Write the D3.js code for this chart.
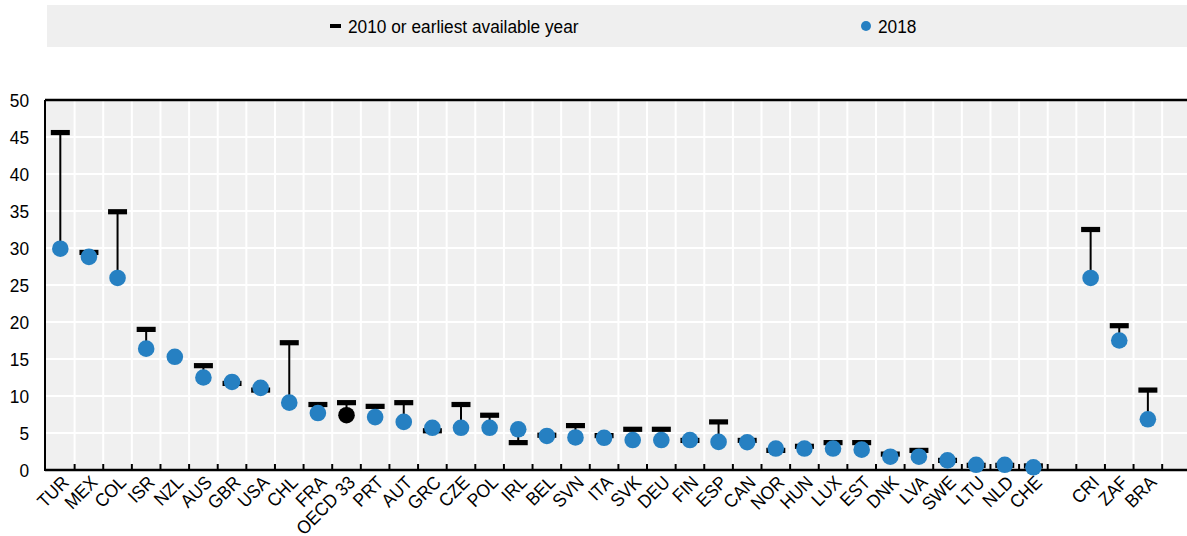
<!DOCTYPE html>
<html>
<head>
<meta charset="utf-8">
<script src="https://cdn.jsdelivr.net/npm/d3@7"></script>
<style>
  html, body { margin: 0; padding: 0; background: #fff; }
  svg { display: block; }
  text { font-family: "Liberation Sans", Arial, sans-serif; fill: #000; }
</style>
</head>
<body>
<svg id="chart" width="1187" height="536"></svg>
<script>
// ---- data ----
const oecdCategories = ["TUR","MEX","COL","ISR","NZL","AUS","GBR","USA","CHL","FRA","OECD 33","PRT","AUT","GRC","CZE","POL","IRL","BEL","SVN","ITA","SVK","DEU","FIN","ESP","CAN","NOR","HUN","LUX","EST","DNK","LVA","SWE","LTU","NLD","CHE"];
const partnerCategories = ["CRI","ZAF","BRA"];
const values2010 = [45.6,29.4,34.9,19.0,null,14.1,11.7,10.8,17.2,8.85,9.1,8.6,9.1,5.3,8.85,7.4,3.7,4.7,6.0,4.65,5.5,5.5,4.0,6.5,4.0,2.65,3.2,3.7,3.7,2.15,2.65,1.3,0.63,0.63,0.55,32.5,19.5,10.8];
const values2018 = [29.9,28.8,25.95,16.4,15.3,12.5,11.9,11.1,9.1,7.7,7.4,7.15,6.5,5.7,5.7,5.7,5.5,4.6,4.4,4.35,4.05,4.05,4.05,3.8,3.75,2.9,2.9,2.9,2.75,1.8,1.8,1.3,0.7,0.7,0.37,25.95,17.5,6.85];
const yTicks = [0,5,10,15,20,25,30,35,40,45,50];
const legendLabels = ["2010 or earliest available year","2018"];
const highlight = "OECD 33";

// ---- layout ----
const svg = d3.select("#chart");
const W = 1187, H = 536;
const pLeft = 46, pTop = 100, pBottom = 470;
const nSlots = 40;
const band = 28.62;
const pRight = pLeft + nSlots * band;
const FS = 18.5, SX = 0.935;

const categories = oecdCategories.concat(partnerCategories);
const domain = oecdCategories.concat(["__gap"], partnerCategories, ["__end"]);
const data = categories.map((c, i) => ({ c, v0: values2010[i], v1: values2018[i] }));

const x = d3.scaleBand().domain(domain).range([pLeft, pRight]).padding(0);
const y = d3.scaleLinear().domain([0, 50]).range([pBottom, pTop]);

const BLUE = "#2680c2";

// legend
svg.append("rect").attr("x", 47).attr("y", 5).attr("width", W - 47).attr("height", 42).attr("fill", "#efefef");
svg.append("rect").attr("x", 330).attr("y", 24).attr("width", 11).attr("height", 4).attr("fill", "#000");
svg.append("text").attr("transform", `translate(348,33) scale(${SX},1)`).attr("font-size", FS).text(legendLabels[0]);
svg.append("circle").attr("cx", 866).attr("cy", 26).attr("r", 5).attr("fill", BLUE);
svg.append("text").attr("transform", `translate(878,33) scale(${SX},1)`).attr("font-size", FS).text(legendLabels[1]);

// plot background
svg.append("rect").attr("x", pLeft).attr("y", pTop).attr("width", W - pLeft).attr("height", pBottom - pTop).attr("fill", "#f0f0f0");

// grid
const g = svg.append("g");
g.selectAll("line.hg").data(yTicks.filter(t => t > 0 && t < 50)).join("line")
  .attr("x1", pLeft).attr("x2", W).attr("y1", d => y(d)).attr("y2", d => y(d))
  .attr("stroke", "#fff").attr("stroke-width", 2);
const boundaries = domain.slice(1).map(d => x(d));
g.selectAll("line.vg").data(boundaries).join("line")
  .attr("x1", d => d).attr("x2", d => d).attr("y1", pTop).attr("y2", pBottom)
  .attr("stroke", "#fff").attr("stroke-width", 2);

// x ticks (inside)
svg.append("g").selectAll("line").data(boundaries).join("line")
  .attr("x1", d => d).attr("x2", d => d).attr("y1", pBottom).attr("y2", pBottom - 6)
  .attr("stroke", "#000").attr("stroke-width", 2);

// axes lines
svg.append("line").attr("x1", pLeft - 1).attr("x2", W).attr("y1", pTop).attr("y2", pTop).attr("stroke", "#000").attr("stroke-width", 2.5);
svg.append("line").attr("x1", pLeft - 1).attr("x2", W).attr("y1", pBottom).attr("y2", pBottom).attr("stroke", "#000").attr("stroke-width", 2.5);
svg.append("line").attr("x1", pLeft - 1).attr("x2", pLeft - 1).attr("y1", pTop).attr("y2", pBottom + 1).attr("stroke", "#000").attr("stroke-width", 2);

// y labels
svg.append("g").selectAll("text").data(yTicks).join("text")
  .attr("transform", d => `translate(29,${y(d)}) scale(${SX},1)`).attr("dy", "0.36em")
  .attr("text-anchor", "end").attr("font-size", FS).text(d => d);

// x labels
const cx = d => x(d) + x.bandwidth() / 2;
svg.append("g").selectAll("text").data(categories).join("text")
  .attr("text-anchor", "end").attr("font-size", FS)
  .attr("transform", d => `translate(${cx(d) + 5},${pBottom + 9}) rotate(-45) scale(${SX},1)`)
  .attr("dy", "0.36em")
  .text(d => d);

// connectors
const conn = data.filter(d => d.v0 != null);
svg.append("g").selectAll("line").data(conn).join("line")
  .attr("x1", d => cx(d.c)).attr("x2", d => cx(d.c))
  .attr("y1", d => y(d.v0)).attr("y2", d => y(d.v1))
  .attr("stroke", "#000").attr("stroke-width", 2);

// 2010 markers
svg.append("g").selectAll("rect").data(conn).join("rect")
  .attr("x", d => cx(d.c) - 9.5).attr("y", d => y(d.v0) - 2.6)
  .attr("width", 19).attr("height", 5.2).attr("fill", "#000");

// 2018 dots
svg.append("g").selectAll("circle").data(data).join("circle")
  .attr("cx", d => cx(d.c)).attr("cy", d => y(d.v1)).attr("r", 8.3)
  .attr("fill", d => d.c === highlight ? "#000" : BLUE);
</script>
</body>
</html>
